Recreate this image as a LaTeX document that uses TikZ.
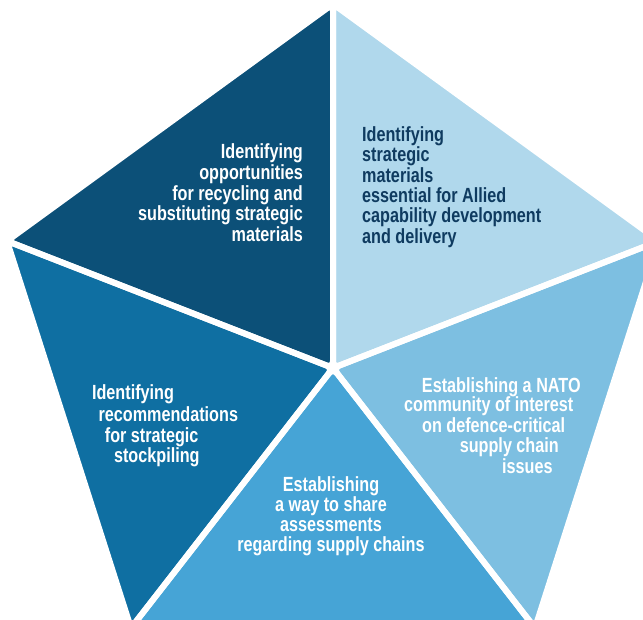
\documentclass[tikz,border=0pt]{standalone}
\usepackage{fontspec}
\setmainfont{Liberation Sans}[FakeStretch=0.79]
\definecolor{cA}{HTML}{0C5078}
\definecolor{cB}{HTML}{B0D8EC}
\definecolor{cC}{HTML}{7DBFE1}
\definecolor{cD}{HTML}{46A4D6}
\definecolor{cE}{HTML}{0F6FA2}
\definecolor{cT}{HTML}{0F3B60}
\begin{document}
\begin{tikzpicture}[x=1pt,y=-1pt,
  seg/.style={rounded corners=7pt},
  gap/.style={draw=white, line width=6pt, line join=round, rounded corners=7pt},
  lbl/.style={font=\bfseries\fontsize{20.5}{21}\selectfont, inner sep=0pt, text=white},
  dlbl/.style={lbl, text=cT}]
\useasboundingbox (0,0) rectangle (643,620);
\clip (0,0) rectangle (643,620);
\coordinate (J) at (333,368);
\coordinate (V0) at (333,4);
\coordinate (V1) at (659,241);
\coordinate (V2) at (535,628);
\coordinate (V3) at (131,628);
\coordinate (V4) at (7,241);
% fills
\fill[cA, seg] (J) -- (V4) -- (V0) -- cycle;
\fill[cB, seg] (J) -- (V0) -- (V1) -- cycle;
\fill[cC, seg] (J) -- (V1) -- (V2) -- cycle;
\fill[cD, seg] (J) -- (V2) -- (V3) -- cycle;
\fill[cE, seg] (J) -- (V3) -- (V4) -- cycle;
% white gaps
\draw[gap] (J) -- (V4) -- (V0) -- cycle;
\draw[gap] (J) -- (V0) -- (V1) -- cycle;
\draw[gap] (J) -- (V1) -- (V2) -- cycle;
\draw[gap] (J) -- (V2) -- (V3) -- cycle;
\draw[gap] (J) -- (V3) -- (V4) -- cycle;
% texts
\foreach \t/\x/\y [count=\i] in {Identifying/303/158.5, opportunities/303/179.3, for recycling and/303/200.1, substituting strategic/303/220.9, materials/303/241.7}
  \node[lbl, anchor=base east] (ta\i) at (\x,\y) {\t};
\foreach \t/\x/\y [count=\i] in {Identifying/362/141.7, strategic/362/162, materials/362/182.3, essential for Allied/362/202.6, capability development/362/222.9, and delivery/362/243.2}
  \node[dlbl, anchor=base west] (tb\i) at (\x,\y) {\t};
\foreach \t/\x/\y [count=\i] in {Establishing a NATO/501.3/392.3, community of interest/488.8/411.7, on defence-critical/493.7/432, supply chain/509.3/452.3, issues/527.3/473}
  \node[lbl, anchor=base] (tc\i) at (\x,\y) {\t};
\foreach \t/\x/\y [count=\i] in {Establishing/331/491, a way to share/331/511.5, assessments/331/531.5, regarding supply chains/331/551.5}
  \node[lbl, anchor=base] (td\i) at (\x,\y) {\t};
\foreach \t/\x/\y [count=\i] in {Identifying/133/399.3, recommendations/168.3/421.7, for strategic/151.7/442.7, stockpiling/156.8/462.7}
  \node[lbl, anchor=base] (te\i) at (\x,\y) {\t};
\end{tikzpicture}
\end{document}
